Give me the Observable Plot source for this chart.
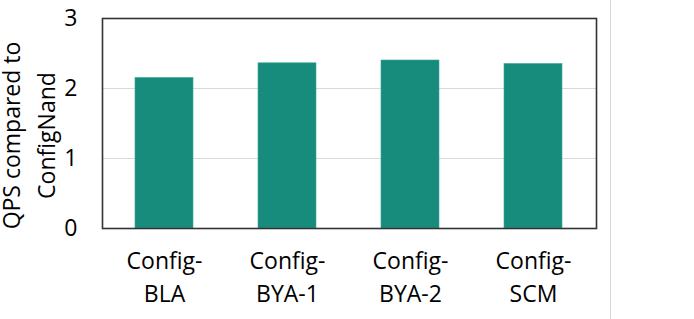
<!DOCTYPE html>
<html>
<head>
<meta charset="utf-8">
<script src="https://cdn.jsdelivr.net/npm/d3@7"></script>
<script src="https://cdn.jsdelivr.net/npm/@observablehq/plot@0.6"></script>
<style>
  html, body { margin: 0; padding: 0; background: #fff; }
  #wrap { position: relative; width: 694px; height: 319px; overflow: hidden; }
  #edge { position: absolute; left: 610px; top: 0; width: 1px; height: 319px; background: #d9d9d9; }
</style>
</head>
<body>
<div id="wrap"><div id="edge"></div></div>
<script>
const categories = ["Config-\nBLA", "Config-\nBYA-1", "Config-\nBYA-2", "Config-\nSCM"];
const qps = [2.15, 2.36, 2.40, 2.35];
const yTicks = [0, 1, 2, 3];
const yLabel = ["QPS compared to", "ConfigNand"];

const data = categories.map((c, i) => ({cat: c, v: qps[i]}));
const font = "'Open Sans', sans-serif";

const chart = Plot.plot({
  width: 694,
  height: 319,
  marginLeft: 102,
  marginRight: 98,
  marginTop: 18,
  marginBottom: 91,
  style: {fontFamily: font, fontSize: "23px", color: "#000", background: "transparent"},
  x: {domain: categories, paddingInner: 0.525, paddingOuter: 0.2625, label: null},
  y: {domain: [0, 3], label: null},
  marks: [
    Plot.ruleY([1, 2], {stroke: "#d9d9d9", strokeWidth: 1}),
    Plot.barY(data, {x: "cat", y: "v", fill: "#178b7c", stroke: "#3aa99a", strokeWidth: 0.6}),
    Plot.axisY(yTicks, {tickSize: 0, tickPadding: 25, fontSize: 23, fill: "#000", tickFormat: d3.format("d")}),
    Plot.axisX({tickSize: 0, tickPadding: 17, fontSize: 23, fill: "#000", lineHeight: 1.43}),
    Plot.frame({stroke: "#333", strokeWidth: 1.6}),
    Plot.text([yLabel.join("\n")], {
      frameAnchor: "left", dx: -76, dy: 12, rotate: -90, fontSize: 23, fill: "#000", lineHeight: 1.52, textAnchor: "middle"
    })
  ]
});
document.getElementById("wrap").appendChild(chart);
chart.style.position = "absolute";
chart.style.left = "0";
chart.style.top = "0";
</script>
</body>
</html>
